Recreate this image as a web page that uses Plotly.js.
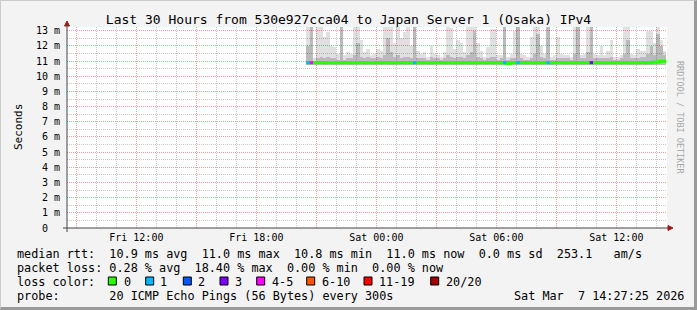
<!DOCTYPE html>
<html><head><meta charset="utf-8">
<script src="https://cdn.plot.ly/plotly-3.0.1.min.js"></script>
<style>
html,body{margin:0;padding:0;background:#f3f3f3;}
#wrap{position:relative;width:697px;height:310px;overflow:hidden;}
#chart{position:absolute;left:0;top:0;width:697px;height:310px;}
#frame{position:absolute;left:0;top:0;width:697px;height:310px;box-sizing:border-box;border-top:1px solid #cbcbcb;border-left:1px solid #cbcbcb;border-right:3px solid #9a9a9a;border-bottom:3px solid #9a9a9a;pointer-events:none;}
</style></head><body>
<div id="wrap"><div id="chart"></div><div id="frame"></div></div>
<script>
// ---- data ----
const seriesStart = Date.UTC(2026, 2, 6, 20, 30, 0); // Fri 20:30
const binMinutes = 10;

const median = [
 10.9,10.9,10.9,10.9,10.9,10.9,10.9,10.9,10.9,10.9,
 10.9,10.9,10.9,10.9,10.9,10.9,10.9,10.9,10.9,10.9,
 10.9,10.9,10.9,10.9,10.9,10.9,10.9,10.9,10.9,10.9,
 10.9,10.9,10.9,10.9,10.9,10.9,10.9,10.9,10.9,10.9,
 10.9,10.9,10.9,10.9,10.9,10.9,10.9,10.9,10.9,10.9,
 10.9,10.9,10.9,10.9,10.9,10.9,10.9,10.9,10.9,10.9,
 10.85,10.9,10.9,10.9,10.9,10.9,10.9,10.9,10.9,10.9,
 10.9,10.9,10.9,10.9,10.9,10.9,10.9,10.9,10.9,10.9,
 10.9,10.9,10.9,10.9,10.9,10.9,10.9,10.9,10.9,10.9,
 10.9,10.9,10.9,10.9,10.9,10.9,10.9,10.9,10.9,10.9,
 10.9,10.9,10.9,10.9,10.95,10.95,11.0,11.0
];
const smokeMax = [
 13.5,13.5,11.2,13.5,13.5,12.6,12.9,12.0,11.9,11.5,13.5,11.4,11.6,11.5,13.5,13.5,12.4,11.6,11.8,11.4,11.5,11.8,11.7,13.5,13.5,13.5,
 12.2,13.5,12.5,12.9,13.5,12.0,13.5,11.7,11.5,11.6,11.3,12.0,11.5,11.4,11.3,11.6,13.5,13.2,11.8,12.4,12.2,11.6,13.5,13.5,13.5,12.2,11.7,
 11.3,11.9,13.1,13.1,11.4,11.4,13.5,11.3,11.5,13.0,13.5,11.5,11.4,11.3,12.6,13.5,13.5,12.0,11.5,13.5,11.3,11.4,12.6,11.5,11.4,11.4,11.3,
 13.5,13.5,11.4,11.5,13.5,13.5,11.5,11.4,12.0,11.4,11.7,12.4,11.3,11.3,11.4,13.5,13.5,11.5,11.4,11.8,11.7,11.7,13.0,13.0,12.2,13.5,12.4,11.7
];
const smokeInner = [
 12.0,13.5,11.0,11.2,11.3,11.2,11.3,11.2,11.2,11.1,13.5,11.1,11.2,11.2,11.4,12.2,11.3,11.2,11.3,11.2,11.2,11.3,11.2,11.4,12.5,11.6,
 11.3,11.4,11.2,11.3,11.3,11.2,13.5,11.2,11.2,11.2,11.1,11.3,11.2,11.2,11.1,11.2,11.4,11.3,11.2,11.3,11.3,11.2,11.4,11.6,13.0,11.3,11.2,
 11.1,11.2,11.3,11.3,11.1,11.2,13.5,11.1,11.2,11.2,13.5,11.2,11.1,11.1,11.2,11.5,12.8,11.3,11.2,13.5,11.1,11.1,11.2,11.2,11.2,11.2,11.1,
 11.5,13.5,11.2,11.2,11.6,13.5,11.2,11.2,11.2,11.2,11.2,11.3,11.1,11.1,11.2,11.5,12.4,11.2,11.2,11.2,11.3,11.3,11.5,12.0,11.4,12.8,12.0,11.4
];
const smokeFloor = 10.75;
const lostPings = [
 1,4,0,0,0,0,0,0,0,0, 0,0,0,0,0,0,0,0,0,0, 0,0,0,0,0,0,0,0,0,0,
 0,0,1,0,0,0,0,0,0,0, 0,0,0,0,0,0,0,0,0,0, 0,0,0,0,0,0,0,0,0,1,
 0,0,0,1,0,0,0,0,0,0, 0,0,1,0,0,0,0,0,0,0, 0,0,0,0,0,3,0,0,0,0,
 0,0,0,0,0,0,0,0,0,0, 0,0,0,0,0,0,0,0
];
const lossClasses = ['0','1','2','3','4-5','6-10','11-19','20/20'];
const lossColors  = ['#26ff00','#00b8ff','#0059ff','#7e00ff','#ff00ff','#ff5500','#ff0000','#a10000'];

const yTickValues = [0,1,2,3,4,5,6,7,8,9,10,11,12,13];
const yTickLabels = ['0\u00a0\u00a0','1 m','2 m','3 m','4 m','5 m','6 m','7 m','8 m','9 m','10 m','11 m','12 m','13 m'];
const xTickValues = ['2026-03-06 09:00','2026-03-06 12:00','2026-03-06 15:00','2026-03-06 18:00','2026-03-06 21:00',
                     '2026-03-07 00:00','2026-03-07 03:00','2026-03-07 06:00','2026-03-07 09:00','2026-03-07 12:00'];
const xTickLabels = ['','Fri 12:00','','Fri 18:00','','Sat 00:00','','Sat 06:00','','Sat 12:00'];

const titleText = 'Last 30 Hours from 530e927cca04 to Japan Server 1 (Osaka) IPv4';
const legendLines = [
 'median rtt:  10.9 ms avg  11.0 ms max  10.8 ms min  11.0 ms now  0.0 ms sd  253.1   am/s',
 'packet loss: 0.28 % avg  18.40 % max  0.00 % min  0.00 % now',
 'loss color:',
 'probe:       20 ICMP Echo Pings (56 Bytes) every 300s'
];
const stampText = 'Sat Mar  7 14:27:25 2026';

// ---- build ----
const MONO = 'DejaVu Sans Mono, monospace';
const binMs = binMinutes * 60000;
const iso = ms => new Date(ms).toISOString().slice(0,19).replace('T',' ');
const starts = median.map((_, i) => seriesStart + i * binMs);
const centers = starts.map(s => iso(s + binMs / 2));
const nb = s => s.replace(/ /g, '\u00a0');
const classOf = n => n === 0 ? 0 : n === 1 ? 1 : n === 2 ? 2 : n === 3 ? 3 : n <= 5 ? 4 : n <= 10 ? 5 : n <= 19 ? 6 : 7;

const traces = [];
traces.push({type:'bar', x:centers, base:median.map(() => smokeFloor), y:smokeMax.map(v => v - smokeFloor),
  width:binMs, marker:{color:'rgba(0,0,0,0.12)', line:{width:0}}, hoverinfo:'skip'});
traces.push({type:'bar', x:centers, base:median.map(() => smokeFloor), y:smokeInner.map(v => v - smokeFloor),
  width:binMs, marker:{color:'rgba(0,0,0,0.17)', line:{width:0}}, hoverinfo:'skip'});

const lineX = starts.map(iso).concat([iso(starts[starts.length-1] + binMs)]);
const lineY = median.concat([median[median.length-1]]);
traces.push({type:'scatter', mode:'lines', x:lineX, y:lineY, line:{color:lossColors[0], width:3, shape:'hv'}, hoverinfo:'skip'});

for (let c = 1; c < lossClasses.length; c++) {
  const xs = [], ys = [];
  lostPings.forEach((n, i) => {
    if (n > 0 && classOf(n) === c) {
      xs.push(iso(starts[i]), iso(starts[i] + binMs), null);
      ys.push(median[i], median[i], null);
    }
  });
  if (xs.length) traces.push({type:'scatter', mode:'lines', x:xs, y:ys, line:{color:lossColors[c], width:3}, hoverinfo:'skip'});
}

// layout geometry
const L = 67, R = 30, T = 27, B = 82, W = 697, H = 310;
const plotBottom = H - B;
const annotations = [];
const shapes = [];

annotations.push({xref:'paper', yref:'paper', x:0, y:0.5, xshift:-57, textangle:-90, showarrow:false,
  text:'Seconds', font:{family:MONO, size:11, color:'#000'}});
annotations.push({xref:'paper', yref:'paper', x:1, y:1, xshift:20.5, yshift:-32, textangle:90, showarrow:false,
  text:'RRDTOOL / TOBI OETIKER', font:{family:MONO, size:8.5, color:'#a8a8a8'}});

const lineYs = [253.5, 267.5, 281.5, 295.5];
legendLines.forEach((t, i) => {
  annotations.push({xref:'paper', yref:'paper', x:0, y:0, xanchor:'left', yanchor:'middle',
    xshift:16 - L - 1, yshift:-(lineYs[i] - plotBottom), showarrow:false, text:nb(t),
    font:{family:MONO, size:11.8, color:'#000'}});
});
annotations.push({xref:'paper', yref:'paper', x:0, y:0, xanchor:'left', yanchor:'middle',
  xshift:513 - L - 1, yshift:-(295.5 - plotBottom), showarrow:false, text:nb(stampText),
  font:{family:MONO, size:11.8, color:'#000'}});

const boxLeft = [108.3, 145.7, 183.3, 220, 256.7, 306.7, 364, 430.7];
const labelLeft = [123, 159, 196.5, 233.5, 270.5, 320.5, 378, 445];
lossClasses.forEach((lab, i) => {
  shapes.push({type:'rect', xref:'paper', yref:'paper', xsizemode:'pixel', ysizemode:'pixel', xanchor:0, yanchor:0,
    x0:boxLeft[i] - L, x1:boxLeft[i] - L + 8, y0:-(285 - plotBottom), y1:-(277 - plotBottom),
    fillcolor:lossColors[i], line:{color:'#000', width:1}});
  annotations.push({xref:'paper', yref:'paper', x:0, y:0, xanchor:'left', yanchor:'middle',
    xshift:labelLeft[i] - L - 1, yshift:-(281.5 - plotBottom), showarrow:false, text:lab,
    font:{family:MONO, size:11.8, color:'#000'}});
});

// axes with arrows
const axisColor = '#444';
const arrowColor = '#9b1b1b';
shapes.push({type:'line', xref:'paper', yref:'paper', xsizemode:'pixel', xanchor:0, x0:-4, x1:602, y0:0, y1:0,
  line:{color:axisColor, width:1}});
shapes.push({type:'line', xref:'paper', yref:'paper', ysizemode:'pixel', yanchor:0, y0:-4, y1:203, x0:0, x1:0,
  line:{color:axisColor, width:1}});
shapes.push({type:'path', xref:'paper', yref:'paper', xsizemode:'pixel', ysizemode:'pixel', xanchor:1, yanchor:0,
  path:'M 1 2.5 L 6 0 L 1 -2.5 Z', fillcolor:arrowColor, line:{color:arrowColor, width:1}});
shapes.push({type:'path', xref:'paper', yref:'paper', xsizemode:'pixel', ysizemode:'pixel', xanchor:0, yanchor:0,
  path:'M -2.5 202 L 2.5 202 L 0 207 Z', fillcolor:arrowColor, line:{color:arrowColor, width:1}});

const majorGrid = '#f29c9c', minorGrid = '#c8c8c8', dash = '1px,1px';

const layout = {
  width:W, height:H, margin:{l:L, r:R, t:T, b:B, pad:0},
  paper_bgcolor:'#f3f3f3', plot_bgcolor:'#ffffff',
  showlegend:false, barmode:'overlay', bargap:0, hovermode:false,
  title:{text:titleText, x:0.5, xref:'container', xanchor:'center', y:1 - 19/H, yref:'container', yanchor:'middle',
    font:{family:MONO, size:13, color:'#000'}},
  xaxis:{type:'date', range:['2026-03-06 08:32:00','2026-03-07 14:32:00'], tickmode:'array', tickvals:xTickValues, ticktext:xTickLabels,
    showgrid:true, gridcolor:majorGrid, griddash:dash, gridwidth:1, zeroline:false, showline:false, ticks:'',
    ticklabelstandoff:2, tickfont:{family:MONO, size:10, color:'#000'}, fixedrange:true,
    minor:{tickmode:'linear', tick0:'2026-03-06 00:00:00', dtick:3600000, showgrid:true, gridcolor:minorGrid, griddash:dash, gridwidth:1, ticks:''}},
  yaxis:{range:[0, 13.25], tickmode:'array', tickvals:yTickValues, ticktext:yTickLabels,
    showgrid:true, gridcolor:majorGrid, griddash:dash, gridwidth:1, zeroline:false, showline:false, ticks:'',
    ticklabelstandoff:6, tickfont:{family:MONO, size:10, color:'#000'}, fixedrange:true,
    minor:{tickmode:'linear', tick0:0, dtick:0.5, showgrid:true, gridcolor:minorGrid, griddash:dash, gridwidth:1, ticks:''}},
  annotations:annotations, shapes:shapes
};

Plotly.newPlot('chart', traces, layout, {staticPlot:true, displayModeBar:false});
</script></body></html>
